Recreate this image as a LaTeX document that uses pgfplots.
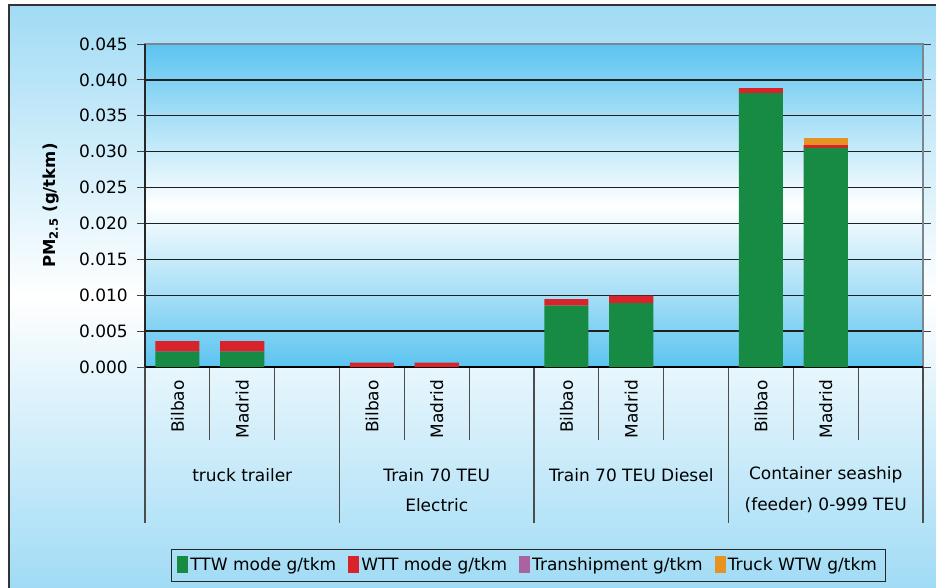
\documentclass[border=0pt]{standalone}
\usepackage{pgfplots}
\pgfplotsset{compat=1.18}
\usepackage{fontspec}
\setmainfont{DejaVu Sans}
\definecolor{ttw}{HTML}{178A43}
\definecolor{wtt}{HTML}{D9232B}
\definecolor{trans}{HTML}{A863A0}
\definecolor{truck}{HTML}{E69323}
\definecolor{outerblue}{HTML}{A0DBF5}
\definecolor{plotblue}{HTML}{5CC4F0}
\definecolor{frame}{HTML}{7A8791}
\begin{document}
\begin{tikzpicture}[font=\fontsize{17bp}{20bp}\selectfont]
\path[use as bounding box] (0bp,0bp) rectangle (936bp,588bp);
\shade[top color=outerblue, bottom color=outerblue, middle color=white] (9bp,0bp) rectangle (936bp,583bp);
\draw[line width=1.5bp, black!80] (9bp,0bp) -- (9bp,583bp) -- (936bp,583bp);
\begin{axis}[
  at={(145bp,221bp)}, anchor=south west,
  scale only axis, width=778bp, height=323bp,
  xmin=-0.5, xmax=11.5, ymin=0, ymax=0.045,
  clip=false,
  axis background/.style={top color=plotblue, bottom color=plotblue, middle color=white},
  axis line style={frame, line width=1.5bp},
  ybar stacked, bar width=0.679,
  xtick={0,1,3,4,6,7,9,10},
  xticklabels={Bilbao,Madrid,Bilbao,Madrid,Bilbao,Madrid,Bilbao,Madrid},
  xticklabel style={rotate=90, anchor=east, inner sep=0pt},
  xticklabel shift=13bp,
  xtick style={draw=none},
  ytick={0,0.005,0.010,0.015,0.020,0.025,0.030,0.035,0.040,0.045},
  yticklabels={0.000,0.005,0.010,0.015,0.020,0.025,0.030,0.035,0.040,0.045},
  scaled y ticks=false,
  ytick align=outside, major tick length=8bp,
  ytick style={black!75, line width=1bp},
  yticklabel style={inner sep=0pt, xshift=-9bp},
  ymajorgrids, major grid style={black!88, line width=1.3bp},
  ylabel={\textbf{PM\textsubscript{2.5} (g/tkm)}},
  ylabel style={at={(axis description cs:-0.121,0.5)}, anchor=center, font=\fontsize{16.5bp}{19bp}\selectfont},
  legend style={at={(0.0334,-0.562)}, anchor=north west, legend columns=4,
    draw=black!85, fill=none, line width=0.8bp, inner xsep=6bp, inner ysep=7bp,
    /tikz/every even column/.append style={column sep=10bp}},
  legend image code/.code={\fill[#1] (0bp,-8bp) rectangle (11bp,9bp);},
  legend cell align=left,
]
\addplot[fill=ttw, draw=none] coordinates {(0,0.00213) (1,0.00213) (3,0.0) (4,0.0) (6,0.00854) (7,0.00891) (9,0.03816) (10,0.03054)};
\addplot[fill=wtt, draw=none] coordinates {(0,0.00149) (1,0.00149) (3,0.0006) (4,0.0006) (6,0.00093) (7,0.00102) (9,0.0007) (10,0.00038)};
\addplot[fill=trans, draw=none] coordinates {(0,0) (1,0) (3,0) (4,0) (6,0) (7,0) (9,0) (10,0)};
\addplot[fill=truck, draw=none] coordinates {(0,0) (1,0) (3,0) (4,0) (6,0) (7,0) (9,0) (10,0.00097)};
\legend{TTW mode g/tkm, WTT mode g/tkm, Transhipment g/tkm, Truck WTW g/tkm}
% left and bottom axis lines
\draw[black!85, line width=1.5bp] (axis cs:-0.5,0) -- (axis cs:-0.5,0.045);
\draw[black, line width=1.5bp] (axis cs:-0.5,0) -- (axis cs:11.5,0);
% separators
\pgfplotsinvokeforeach{-0.5,2.5,5.5,8.5,11.5}{
  \draw[black!70, line width=1.2bp] (axis cs:#1,0) -- ([yshift=-156bp]axis cs:#1,0);
}
\pgfplotsinvokeforeach{0.5,1.5,3.5,4.5,6.5,7.5,9.5,10.5}{
  \draw[black!70, line width=1.2bp] (axis cs:#1,0) -- ([yshift=-73bp]axis cs:#1,0);
}
\node at ([yshift=-108bp]axis cs:1,0) {truck trailer};
\node at ([yshift=-108bp]axis cs:4,0) {Train 70 TEU};
\node at ([yshift=-138bp]axis cs:4,0) {Electric};
\node at ([yshift=-108bp]axis cs:7,0) {Train 70 TEU Diesel};
\node at ([yshift=-108bp]axis cs:10,0) {Container seaship};
\node at ([yshift=-138bp]axis cs:10,0) {(feeder) 0-999 TEU};
\end{axis}
\end{tikzpicture}
\end{document}
